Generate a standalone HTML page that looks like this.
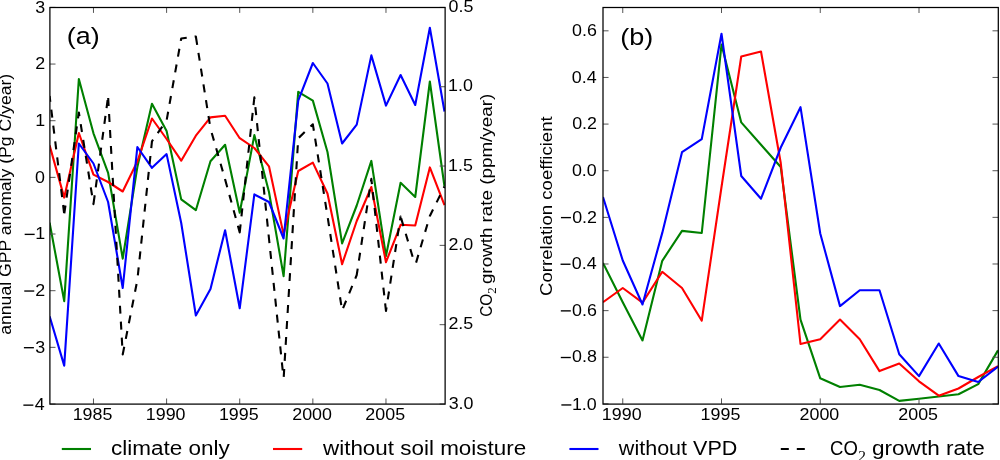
<!DOCTYPE html>
<html><head><meta charset="utf-8"><title>GPP anomaly and correlation</title>
<style>html,body{margin:0;padding:0;background:#fff;}body{width:1000px;height:460px;overflow:hidden;}svg{display:block;will-change:transform;}text{font-family:"Liberation Sans",sans-serif;fill:#000;}</style>
</head><body>
<svg width="1000" height="460" viewBox="0 0 1000 460">
<rect x="0" y="0" width="1000" height="460" fill="#fff"/>
<clipPath id="ca"><rect x="50.0" y="7.4" width="395.1" height="396.6"/></clipPath>
<clipPath id="cb"><rect x="603.05" y="7.5" width="394.95000000000005" height="396.4"/></clipPath>
<g clip-path="url(#ca)" fill="none" stroke-width="2.10" stroke-linejoin="round" stroke-linecap="butt">
<polyline points="49.60,222.60 64.22,301.10 78.85,79.00 93.47,133.30 108.10,172.90 122.72,258.60 137.35,167.10 151.97,103.70 166.60,131.00 181.22,199.40 195.85,210.20 210.47,161.30 225.10,144.80 239.72,212.80 254.35,135.10 268.98,192.00 283.60,276.10 298.23,91.80 312.85,100.65 327.48,152.00 342.10,243.40 356.73,205.50 371.35,160.90 385.98,256.00 400.60,182.80 415.23,197.00 429.85,81.50 444.48,186.50" stroke="#008000"/>
<polyline points="49.60,145.30 64.22,197.60 78.85,133.00 93.47,174.60 108.10,182.00 122.72,191.50 137.35,161.50 151.97,118.50 166.60,139.00 181.22,160.70 195.85,135.70 210.47,117.40 225.10,115.80 239.72,138.20 254.35,148.00 268.98,166.30 283.60,234.60 298.23,171.00 312.85,162.60 327.48,193.50 342.10,264.20 356.73,221.00 371.35,187.00 385.98,262.20 400.60,224.80 415.23,225.50 429.85,167.40 444.48,205.20" stroke="#ff0000"/>
<polyline points="49.60,316.30 64.22,365.65 78.85,143.50 93.47,163.50 108.10,202.00 122.72,288.00 137.35,147.00 151.97,167.80 166.60,154.10 181.22,223.00 195.85,315.50 210.47,289.10 225.10,230.20 239.72,308.30 254.35,194.40 268.98,202.00 283.60,238.50 298.23,100.65 312.85,63.00 327.48,83.50 342.10,143.50 356.73,124.60 371.35,55.40 385.98,105.65 400.60,75.00 415.23,105.00 429.85,27.80 444.48,111.50" stroke="#0000ff"/>
<polyline points="49.60,96.00 64.22,214.10 78.85,112.50 93.47,204.10 108.10,96.50 122.72,354.50 137.35,280.00 151.97,141.30 166.60,120.50 181.22,38.50 195.85,36.50 210.47,128.50 225.10,179.40 239.72,232.40 254.35,97.40 268.98,238.50 283.60,379.00 298.23,138.30 312.85,124.30 327.48,216.00 342.10,310.50 356.73,275.00 371.35,178.80 385.98,311.00 400.60,216.50 415.23,265.50 429.85,216.00 444.48,186.50" stroke="#000" stroke-dasharray="5.83 8.00 8.00 8.00 8.00 8.00 8.00 8.00 8.00 8.00 8.00 8.00 8.00 8.00 8.00 1.86 8.00 8.00 8.00 8.00 8.00 8.00 8.00 8.00 8.00 8.00 8.00 8.00 9.73 8.00 8.00 8.00 8.00 8.00 8.00 8.00 8.00 8.00 8.00 8.00 9.93 8.00 8.00 8.00 8.00 8.00 8.00 8.00 8.00 8.00 8.00 8.00 8.00 5.17 8.00 8.00 8.00 8.00 8.00 8.00 8.00 8.00 8.00 8.00 8.00 8.00 8.00 8.00 8.00 8.00 8.00 8.00 8.00 8.00 8.00 8.00 8.00 8.00 8.00 8.00 8.00 8.00 8.00 8.00 8.00 8.00 8.78 8.00 8.00 8.00 8.00 8.00 8.00 8.00 8.00 8.72 8.00 8.00 8.00 8.00 8.00 8.00 8.00 8.00 8.00 8.00 8.00 8.00 8.00 8.00 8.00 8.00 8.72 8.00 8.00 8.35 8.00 8.00 8.00 8.00 8.00 8.00 8.00 8.00 8.00 8.00 8.00 8.00 9.70 8.00 8.00 8.00 8.00 8.00 8.00 8.00 8.00 8.00 8.00 9.28 8.00 8.00 8.00 8.00 8.00 8.00 8.40 8.00 8.00 8.00 8.00 8.00 15.04 8.00 8.00 8.00 8.00 8.00 8.00 8.00 8.00 8.00 8.00 8.00 8.00 8.00 8.00 8.00 9.51 8.00 8.00 8.00 8.00 8.00 8.00 8.00 8.00 8.00 8.00 8.00 8.00 8.00 8.00 8.00 8.00 8.00 8.57 8.00 8.00 8.00 8.00 8.00 8.00 8.00 8.00 8.00 8.00 8.00 8.00 8.00 8.00 8.00 8.00 10.83 8.00 8.00 8.00 8.00 8.00 8.00 8.00 8.00 8.00 8.00 8.00 8.00 8.00 8.00 8.00 8.00 8.00 8.00 8.00 8.00 8.00 8.00 8.00 8.00 8.00 8.00 8.00 8.00 8.00 8.00 8.00 8.00 9.77 8.00 8.00 8.00 8.00 8.00 8.00 8.00 8.00 8.00 8.00 8.54 8.00 8.00 8.00 8.00 8.00 8.00 8.00 8.00 8.00 8.00 8.00 8.00 8.00 8.00 8.00 8.00 10.31 8.00 8.00 8.00 8.00 8.00 8.00 8.00 8.00 8.00 8.00 8.00 8.20 8.00 8.00 8.00 8.00 8.00 8.00 8.00 8.00 8.00 8.00 8.00 8.00 8.00 8.00 8.00 11.34 8.00 8.00 8.00 8.00 8.00 8.00 8.00 8.00 8.00 8.00 8.00 3.93 1.98 8.00 8.00 8.00 8.00 8.00 12.18 8.00 8.00 8.00 8.00 8.00 8.00 7.76 8.00 8.00 8.00 1.76 50.00 0.00"/>
</g>
<g clip-path="url(#cb)" fill="none" stroke-width="2.10" stroke-linejoin="round" stroke-linecap="butt">
<polyline points="603.00,263.00 622.75,302.20 642.50,340.40 662.25,260.80 682.00,230.90 701.75,233.00 721.50,44.60 741.25,122.40 761.00,144.70 780.75,167.00 800.50,319.60 820.25,378.30 840.00,387.00 859.75,384.80 879.50,390.00 899.25,400.90 919.00,398.70 938.75,396.50 958.50,394.30 978.25,384.10 998.00,350.40" stroke="#008000"/>
<polyline points="603.00,302.20 622.75,288.00 642.50,302.60 662.25,271.80 682.00,288.00 701.75,320.70 721.50,187.00 741.25,56.50 761.00,51.50 780.75,163.00 800.50,344.00 820.25,339.30 840.00,319.60 859.75,339.30 879.50,371.10 899.25,363.50 919.00,381.30 938.75,395.70 958.50,388.50 978.25,377.00 998.00,366.10" stroke="#ff0000"/>
<polyline points="603.00,197.00 622.75,260.50 642.50,304.50 662.25,232.90 682.00,152.20 701.75,139.10 721.50,33.70 741.25,176.00 761.00,198.70 780.75,147.50 800.50,107.20 820.25,233.50 840.00,306.10 859.75,290.20 879.50,290.20 899.25,354.30 919.00,376.10 938.75,343.50 958.50,376.10 978.25,382.00 998.00,366.70" stroke="#0000ff"/>
</g>
<path d="M93.47,404.00V398.50M93.47,7.40V12.90M166.60,404.00V398.50M166.60,7.40V12.90M239.72,404.00V398.50M239.72,7.40V12.90M312.85,404.00V398.50M312.85,7.40V12.90M385.98,404.00V398.50M385.98,7.40V12.90M50.00,404.00H55.50M50.00,347.34H55.50M50.00,290.69H55.50M50.00,234.03H55.50M50.00,177.37H55.50M50.00,120.71H55.50M50.00,64.06H55.50M50.00,7.40H55.50M445.10,7.40H439.60M445.10,86.72H439.60M445.10,166.04H439.60M445.10,245.36H439.60M445.10,324.68H439.60M445.10,404.00H439.60M622.75,403.90V398.40M622.75,7.50V13.00M721.50,403.90V398.40M721.50,7.50V13.00M820.25,403.90V398.40M820.25,7.50V13.00M919.00,403.90V398.40M919.00,7.50V13.00M603.05,30.82H608.55M998.00,30.82H992.50M603.05,77.45H608.55M998.00,77.45H992.50M603.05,124.09H608.55M998.00,124.09H992.50M603.05,170.72H608.55M998.00,170.72H992.50M603.05,217.36H608.55M998.00,217.36H992.50M603.05,263.99H608.55M998.00,263.99H992.50M603.05,310.63H608.55M998.00,310.63H992.50M603.05,357.26H608.55M998.00,357.26H992.50M603.05,403.90H608.55M998.00,403.90H992.50" stroke="#555" stroke-width="1.0" fill="none"/>
<rect x="49.9" y="7.5" width="395.22" height="396.60" fill="none" stroke="#000" stroke-width="1.25"/>
<rect x="603.0" y="7.5" width="395.30" height="396.60" fill="none" stroke="#000" stroke-width="1.25"/>
<text transform="translate(72.63,419.94) scale(1.0908,1)" font-size="16.40">1985</text>
<text transform="translate(145.74,419.94) scale(1.0908,1)" font-size="16.40">1990</text>
<text transform="translate(218.88,419.94) scale(1.0908,1)" font-size="16.40">1995</text>
<text transform="translate(292.21,419.94) scale(1.0908,1)" font-size="16.40">2000</text>
<text transform="translate(365.36,419.94) scale(1.0908,1)" font-size="16.40">2005</text>
<text transform="translate(601.79,419.94) scale(1.0908,1)" font-size="16.40">1990</text>
<text transform="translate(700.56,419.94) scale(1.0908,1)" font-size="16.40">1995</text>
<text transform="translate(799.51,419.94) scale(1.0908,1)" font-size="16.40">2000</text>
<text transform="translate(898.28,419.94) scale(1.0908,1)" font-size="16.40">2005</text>
<text transform="translate(34.86,410.04) scale(1.0908,1)" font-size="16.40">4</text><rect x="23.37" y="404.47" width="10.0" height="1.35" fill="#000"/>
<text transform="translate(35.13,352.58) scale(1.0908,1)" font-size="16.40">3</text><rect x="23.90" y="347.02" width="10.0" height="1.35" fill="#000"/>
<text transform="translate(35.27,296.01) scale(1.0908,1)" font-size="16.40">2</text><rect x="24.26" y="290.36" width="10.0" height="1.35" fill="#000"/>
<text transform="translate(35.22,239.27) scale(1.0908,1)" font-size="16.40">1</text><rect x="24.66" y="233.70" width="10.0" height="1.35" fill="#000"/>
<text transform="translate(35.04,182.61) scale(1.0908,1)" font-size="16.40">0</text>
<text transform="translate(35.22,125.95) scale(1.0908,1)" font-size="16.40">1</text>
<text transform="translate(35.27,69.38) scale(1.0908,1)" font-size="16.40">2</text>
<text transform="translate(35.13,13.44) scale(1.0908,1)" font-size="16.40">3</text>
<text transform="translate(448.58,11.94) scale(1.0908,1)" font-size="16.40">0.5</text>
<text transform="translate(447.96,91.26) scale(1.0908,1)" font-size="16.40">1.0</text>
<text transform="translate(447.96,170.50) scale(1.0908,1)" font-size="16.40">1.5</text>
<text transform="translate(448.41,249.90) scale(1.0908,1)" font-size="16.40">2.0</text>
<text transform="translate(448.41,329.22) scale(1.0908,1)" font-size="16.40">2.5</text>
<text transform="translate(448.63,408.54) scale(1.0908,1)" font-size="16.40">3.0</text>
<text transform="translate(572.00,35.96) scale(1.0908,1)" font-size="16.40">0.6</text>
<text transform="translate(571.73,82.59) scale(1.0908,1)" font-size="16.40">0.4</text>
<text transform="translate(572.13,129.23) scale(1.0908,1)" font-size="16.40">0.2</text>
<text transform="translate(571.91,175.86) scale(1.0908,1)" font-size="16.40">0.0</text>
<text transform="translate(572.13,222.50) scale(1.0908,1)" font-size="16.40">0.2</text><rect x="560.94" y="216.93" width="10.0" height="1.35" fill="#000"/>
<text transform="translate(571.73,269.13) scale(1.0908,1)" font-size="16.40">0.4</text><rect x="560.54" y="263.57" width="10.0" height="1.35" fill="#000"/>
<text transform="translate(572.00,315.77) scale(1.0908,1)" font-size="16.40">0.6</text><rect x="560.81" y="310.20" width="10.0" height="1.35" fill="#000"/>
<text transform="translate(572.00,362.40) scale(1.0908,1)" font-size="16.40">0.8</text><rect x="560.81" y="356.84" width="10.0" height="1.35" fill="#000"/>
<text transform="translate(571.91,409.84) scale(1.0908,1)" font-size="16.40">1.0</text><rect x="561.35" y="404.28" width="10.0" height="1.35" fill="#000"/>
<text transform="translate(11.40,334.75) rotate(-90) scale(1.0485,1)" font-size="16.80">annual GPP anomaly (Pg C/year)</text>
<text transform="translate(552.40,295.93) rotate(-90) scale(1.1086,1)" font-size="16.80">Correlation coefficient</text>
<text transform="translate(491.60,316.87) rotate(-90) scale(0.9125,1)" font-size="16.80">CO</text>
<text transform="translate(496.20,293.85) rotate(-90) scale(1.0834,1)" font-size="11.92" style='font-family:"Liberation Serif",serif'>2</text>
<text transform="translate(491.60,284.10) rotate(-90) scale(1.1212,1)" font-size="16.80">growth rate (ppm/year)</text>
<text transform="translate(66.72,44.47) scale(1.1568,1)" font-size="23.30">(a)</text>
<text transform="translate(620.21,44.67) scale(1.1588,1)" font-size="23.30">(b)</text>
<path d="M61.8,449.0H91" stroke="#008000" stroke-width="2.1" fill="none"/>
<path d="M273,449.0H302.2" stroke="#ff0000" stroke-width="2.1" fill="none"/>
<path d="M569.4,449.0H598.5" stroke="#0000ff" stroke-width="2.1" fill="none"/>
<path d="M780.8,449.0H809.8" stroke="#000" stroke-width="2.1" stroke-dasharray="8 8" fill="none"/>
<text transform="translate(111.04,454.70) scale(1.1481,1)" font-size="19.60">climate only</text>
<text transform="translate(322.96,454.70) scale(1.1452,1)" font-size="19.60">without soil moisture</text>
<text transform="translate(618.85,454.70) scale(1.0994,1)" font-size="19.60">without VPD</text>
<text transform="translate(830.07,454.70) scale(0.9458,1)" font-size="19.60">CO</text>
<text transform="translate(858.35,461.00) scale(1.0413,1)" font-size="14.79" style='font-family:"Liberation Serif",serif'>2</text>
<text transform="translate(872.04,454.70) scale(1.1506,1)" font-size="19.60">growth rate</text>
</svg>
</body></html>
